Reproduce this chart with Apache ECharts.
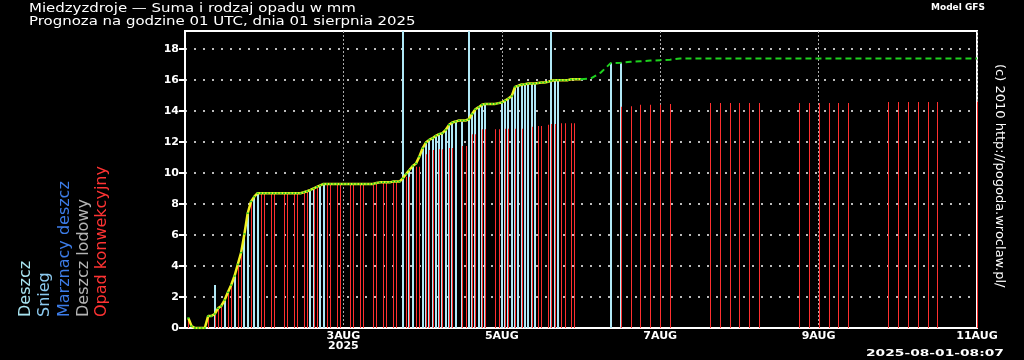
<!DOCTYPE html>
<html><head><meta charset="utf-8">
<script src="https://cdn.jsdelivr.net/npm/echarts@6/dist/echarts.min.js"></script>
<style>html,body{margin:0;padding:0;background:#000;}#c{width:1024px;height:360px;}</style>
</head><body><div id="c"></div>
<script>
// hours since 2025-08-01 00 UTC
const cumHours = [1,2,3,4,5,6,7,8,9,10,11,12,13,14,15,16,17,18,19,20,21,22,23,24,25,26,27,28,29,30,31,32,33,34,35,36,37,38,39,40,41,42,43,44,45,46,47,48,49,50,51,52,53,54,55,56,57,58,59,60,61,62,63,64,65,66,67,68,69,70,71,72,73,74,75,76,77,78,79,80,81,82,83,84,85,86,87,88,89,90,91,92,93,94,95,96,97,98,99,100,101,102,103,104,105,106,107,108,109,110,111,112,113,114,115,116,117,118,119,120];
const cumValues = [0.65,0.12,0,0,0,0,0.77,0.77,0.9,1.27,1.42,1.8,2.3,2.77,3.35,4.1,4.86,6.06,7.4,8.15,8.47,8.69,8.69,8.69,8.69,8.69,8.69,8.69,8.69,8.69,8.69,8.69,8.69,8.69,8.69,8.75,8.82,8.9,9.0,9.1,9.2,9.29,9.29,9.29,9.29,9.29,9.29,9.29,9.29,9.29,9.29,9.29,9.29,9.29,9.29,9.29,9.29,9.35,9.39,9.39,9.39,9.39,9.44,9.44,9.44,9.65,9.93,10.19,10.45,10.6,11.05,11.59,11.96,12.13,12.24,12.39,12.5,12.56,12.77,13.1,13.25,13.31,13.38,13.38,13.38,13.46,13.8,14.1,14.24,14.39,14.45,14.45,14.45,14.45,14.5,14.54,14.67,14.8,14.95,15.55,15.62,15.7,15.72,15.76,15.76,15.76,15.8,15.83,15.83,15.87,15.94,15.98,15.98,15.98,15.98,15.98,16.04,16.04,16.04,16.04];
const cum3Hours = [120,123,126,129,132,135,138,141,144,147,150,153,156,159,162,165,168,171,174,177,180,183,186,189,192,195,198,201,204,207,210,213,216,219,222,225,228,231,234,237,240];
const cum3Values = [16.04,16.1,16.47,17.08,17.1,17.16,17.2,17.24,17.27,17.3,17.37,17.37,17.37,17.37,17.37,17.37,17.37,17.37,17.37,17.37,17.37,17.37,17.37,17.37,17.37,17.37,17.37,17.37,17.37,17.37,17.37,17.37,17.37,17.37,17.37,17.37,17.37,17.37,17.37,17.37,17.37];
const rainHours = [9,12,15,18,19,21,22,38,39,41,42,66,68,69,72,73,74,75,76,77,78,79,80,81,82,84,86,87,88,89,90,91,96,97,98,99,100,101,102,103,104,105,106,111,112,113,129,132];
const rainValues = [2.77,1.8,3.35,6.06,7.4,8.47,8.69,8.9,9.0,9.2,9.29,25,10.19,10.45,11.59,11.96,12.13,12.24,12.39,12.5,12.56,12.77,13.1,13.25,13.31,13.3,25,13.8,14.1,14.24,14.39,14.45,14.54,14.67,14.8,14.95,15.55,15.62,15.7,15.72,15.76,15.76,15.76,25,15.98,15.98,17.08,17.1];
const convHours = [1,7,9,10,11,13,14,16,17,20,23,24,26,27,30,31,33,34,36,37,39,40,43,44,46,47,50,51,53,54,57,58,60,61,63,64,67,68,70,71,73,74,75,77,78,80,81,84,85,87,88,90,91,94,95,97,98,100,102,105,107,108,110,111,112,114,115,117,118,132,135,138,141,144,147,159,162,165,168,171,174,186,189,192,195,198,201,213,216,219,222,225,228,240];
const convValues = [0.65,0.77,0.9,1.27,1.42,2.3,2.77,4.1,4.86,8.15,8.69,8.69,8.69,8.69,8.69,8.69,8.69,8.69,8.75,8.82,9.0,9.1,9.29,9.29,9.29,9.29,9.29,9.29,9.29,9.29,9.29,9.35,9.39,9.39,9.44,9.44,9.76,9.76,10.4,10.4,11.2,11.48,11.48,11.53,11.53,11.6,11.6,11.74,11.74,12.5,12.5,12.82,12.82,12.82,12.82,12.84,12.84,12.84,12.84,12.97,13.03,13.03,13.1,13.16,13.16,13.2,13.2,13.2,13.2,14.26,14.3,14.4,14.4,14.4,14.45,14.5,14.5,14.5,14.5,14.5,14.5,14.5,14.5,14.5,14.5,14.5,14.5,14.58,14.58,14.58,14.58,14.58,14.58,14.6];
const xTickLabels = {48:'3AUG\n2025', 96:'5AUG', 144:'7AUG', 192:'9AUG', 240:'11AUG'};
const yTicks = [0,2,4,6,8,10,12,14,16,18];
const legendItems = ['Deszcz','Snieg','Marznacy deszcz','Deszcz lodowy','Opad konwekcyjny'];
const legendColors = ['#a8e4f0','#8ccaf0','#3c7ce8','#b4b4b4','#ff3333'];

const chart = echarts.init(document.getElementById('c'));
const pair = (xs, ys) => xs.map((x, i) => [x, ys[i]]);
const legendX = [26, 45, 65, 84, 102];
const graphics = [
  {type:'text', x:29, y:2, scaleX:1.15, style:{text:'Miedzyzdroje \u2014 Suma i rodzaj opadu w mm', fill:'#fff', font:'13px "DejaVu Sans"'}},
  {type:'text', x:29, y:15, scaleX:1.15, style:{text:'Prognoza na godzine 01 UTC, dnia 01 sierpnia 2025', fill:'#fff', font:'13px "DejaVu Sans"'}},
  {type:'text', x:931, y:3, style:{text:'Model GFS', fill:'#fff', font:'bold 9px "DejaVu Sans"'}},
  {type:'text', x:866, y:350, scaleY:0.7, scaleX:1.15, style:{text:'2025-08-01-08:07', fill:'#fff', font:'bold 12px "DejaVu Sans"'}},
  {type:'text', x:999, y:64, rotation:-Math.PI/2, style:{text:'(c) 2010 http://pogoda.wroclaw.pl/', fill:'#fff', font:'13px "DejaVu Sans"', textAlign:'left', textVerticalAlign:'middle', align:'left', verticalAlign:'middle'}}
];
legendItems.forEach((t, i) => graphics.push({type:'text', x:legendX[i], y:317, rotation:Math.PI/2,
  style:{text:t, fill:legendColors[i], font:'16px "DejaVu Sans"', textAlign:'left', textVerticalAlign:'middle', align:'left', verticalAlign:'middle'}}));

function stickRenderer(width, color) {
  return function (params, api) {
    const top = api.coord([api.value(0), api.value(1)]);
    const base = api.coord([api.value(0), 0]);
    const cs = params.coordSys;
    const yTop = Math.max(top[1], cs.y);
    const x = Math.round(top[0]) - Math.floor(width / 2);
    return {type:'rect', shape:{x:x, y:yTop, width:width, height:base[1] - yTop}, style:{fill:color}};
  };
}

chart.setOption({
  backgroundColor:'#000',
  animation:false,
  grid:{left:185, right:47, top:31, bottom:32, show:true, borderColor:'#fff', borderWidth:2, backgroundColor:'#000'},
  xAxis:{type:'value', min:0, max:240, interval:48,
    axisLine:{show:true, onZero:false, lineStyle:{color:'#fff', width:2}},
    axisTick:{show:false},
    axisLabel:{color:'#fff', fontFamily:'DejaVu Sans', fontWeight:'bold', fontSize:11, margin:3, lineHeight:10,
      showMinLabel:false, formatter:v => xTickLabels[v] || ''},
    splitLine:{show:true, lineStyle:{color:'#aaa', width:1, type:[2,2]}}},
  yAxis:{type:'value', min:0, max:19.15, interval:2,
    axisLine:{show:true, lineStyle:{color:'#fff', width:2}},
    axisTick:{show:true, length:6, customValues:yTicks, lineStyle:{color:'#fff', width:2}},
    axisLabel:{color:'#fff', fontFamily:'DejaVu Sans', fontWeight:'bold', fontSize:11, margin:6, customValues:yTicks},
    splitLine:{show:true, lineStyle:{color:'#bbb', width:2, type:[2,7]}}},
  graphic:graphics,
  series:[
    {type:'custom', name:'Deszcz', data:pair(rainHours, rainValues), renderItem:stickRenderer(2, '#b0e8f6'), z:2},
    {type:'custom', name:'Opad konwekcyjny', data:pair(convHours, convValues), renderItem:stickRenderer(1, '#ff3030'), z:3},
    {type:'line', data:pair(cumHours, cumValues), z:5, lineStyle:{color:'#f0f020', width:2.5},
      symbol:'rect', symbolSize:[2,1.5], itemStyle:{color:'#22cc22'}, showAllSymbol:true},
    {type:'line', data:pair(cum3Hours, cum3Values), z:5, symbol:'none', lineStyle:{color:'#1ed21e', width:2, type:[6,4]}}
  ]
});
</script></body></html>
